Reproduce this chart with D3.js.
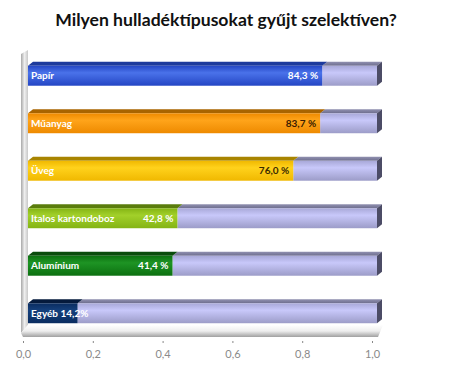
<!DOCTYPE html>
<html>
<head>
<meta charset="utf-8">
<script src="https://cdn.jsdelivr.net/npm/d3@7"></script>
<style>
  body { margin: 0; background: #fff; }
  text { font-family: Lato, "Open Sans", sans-serif; }
</style>
</head>
<body>
<div id="chart"></div>
<script>
const categories = ["Papír", "Műanyag", "Üveg", "Italos kartondoboz", "Alumínium", "Egyéb"];
const values = [0.843, 0.837, 0.760, 0.428, 0.414, 0.142];
const valueLabels = ["84,3 %", "83,7 %", "76,0 %", "42,8 %", "41,4 %", "14,2%"];
const tickValues = [0, 0.2, 0.4, 0.6, 0.8, 1.0];

const width = 450, height = 370;
const depth = { x: 5, y: 4 };
const barColors = [
    { top: "#1d3a9c", light: "#4a72ea", dark: "#2446c4", label: "#fff" },
    { top: "#a86400", light: "#ffa41a", dark: "#ee8a00", label: "#3a1c00" },
    { top: "#a88400", light: "#ffd21c", dark: "#f0b800", label: "#3a2a00" },
    { top: "#5a7c0c", light: "#a2d02a", dark: "#84b414", label: "#fff" },
    { top: "#0a4c0c", light: "#1e9424", dark: "#0c7010", label: "#fff" },
    { top: "#051a3c", light: "#15407c", dark: "#0a2c60", label: "#fff" }
];

const svg = d3.select("#chart").append("svg")
    .attr("width", width)
    .attr("height", height);

/* front face scale and the axis scale sitting on the back plane */
const x = d3.scaleLinear().domain([0, 1]).range([28, 377]);
const xAxisScale = d3.scaleLinear().domain([0, 1]).range([23, 372]);
const y = d3.scaleBand().domain(categories).range([52, 337]).paddingInner(0.58).paddingOuter(0.29);

const defs = svg.append("defs");
function vGrad(id, stops) {
    const g = defs.append("linearGradient").attr("id", id)
        .attr("x1", 0).attr("y1", 0).attr("x2", 0).attr("y2", 1);
    stops.forEach(s => g.append("stop").attr("offset", s[0]).attr("stop-color", s[1]));
}
function hGrad(id, stops) {
    const g = defs.append("linearGradient").attr("id", id)
        .attr("x1", 0).attr("y1", 0).attr("x2", 1).attr("y2", 0);
    stops.forEach(s => g.append("stop").attr("offset", s[0]).attr("stop-color", s[1]));
}
barColors.forEach((c, i) => vGrad("bar" + i, [[0, c.dark], [0.35, c.light], [1, c.dark]]));
vGrad("rest", [[0, "#a8a8d8"], [0.35, "#c8c8fa"], [1, "#9c9cc8"]]);
vGrad("restTop", [[0, "#9090b0"], [1, "#6e6e8e"]]);
hGrad("wall", [[0, "#a8a8a8"], [0.5, "#eeeeee"], [1, "#c8c8c8"]]);
vGrad("floor", [[0, "#ffffff"], [0.5, "#eeeeee"], [1, "#a0a0a0"]]);

/* title */
svg.append("text")
    .attr("x", 226)
    .attr("y", 26)
    .attr("text-anchor", "middle")
    .attr("font-size", 17.6)
    .attr("font-weight", "bold")
    .attr("fill", "#111")
    .text("Milyen hulladéktípusokat gyűjt szelektíven?");

/* side wall and floor */
const wallTop = 50, floorY = 325;
svg.append("path")
    .attr("d", `M21,${wallTop + 4} L28,${wallTop} L28,${floorY} L21,${floorY + 8} Z`)
    .attr("fill", "url(#wall)");
svg.append("path")
    .attr("d", `M21,${floorY + 8} L28,${floorY} L383,${floorY} L378,${floorY + 12} L23,${floorY + 12} Z`)
    .attr("fill", "url(#floor)");

/* bars */
const bars = svg.append("g").selectAll("g").data(categories).enter().append("g");

bars.each(function(cat, i) {
    const g = d3.select(this);
    const y0 = y(cat), h = y.bandwidth();
    const xe = x(values[i]), x1 = x(1);
    /* remaining (100%) part */
    g.append("path")
        .attr("d", `M${xe},${y0} L${xe + depth.x},${y0 - depth.y} L${x1 + depth.x},${y0 - depth.y} L${x1},${y0} Z`)
        .attr("fill", "url(#restTop)");
    g.append("path")
        .attr("d", `M${x1},${y0} L${x1 + depth.x},${y0 - depth.y} L${x1 + depth.x},${y0 + h - depth.y} L${x1},${y0 + h} Z`)
        .attr("fill", "#4c4c66");
    g.append("rect")
        .attr("x", xe).attr("y", y0)
        .attr("width", x1 - xe).attr("height", h)
        .attr("fill", "url(#rest)");
    /* value part */
    g.append("path")
        .attr("d", `M${x(0)},${y0} L${x(0) + depth.x},${y0 - depth.y} L${xe + depth.x},${y0 - depth.y} L${xe},${y0} Z`)
        .attr("fill", barColors[i].top);
    g.append("rect")
        .attr("x", x(0)).attr("y", y0)
        .attr("width", xe - x(0)).attr("height", h)
        .attr("fill", "url(#bar" + i + ")");
    /* labels */
    if (values[i] > 0.3) {
        g.append("text")
            .attr("x", x(0) + 3).attr("y", y0 + h / 2 + 3.5)
            .attr("font-size", 10).attr("font-weight", "bold")
            .attr("fill", "#fff")
            .text(cat);
        g.append("text")
            .attr("x", xe - 4).attr("y", y0 + h / 2 + 3.5)
            .attr("text-anchor", "end")
            .attr("font-size", 10).attr("font-weight", "bold")
            .attr("fill", barColors[i].label)
            .text(valueLabels[i]);
    } else {
        g.append("text")
            .attr("x", x(0) + 3).attr("y", y0 + h / 2 + 3.5)
            .attr("font-size", 10).attr("font-weight", "bold")
            .attr("fill", "#fff")
            .text(cat + " " + valueLabels[i]);
    }
});

/* x axis */
const xAxis = d3.axisBottom(xAxisScale)
    .tickValues(tickValues)
    .tickSize(2)
    .tickPadding(7)
    .tickFormat(d => d3.format(".1f")(d).replace(".", ","));
const xAxisG = svg.append("g")
    .attr("transform", "translate(0, 341)")
    .call(xAxis);
xAxisG.select(".domain").remove();
xAxisG.selectAll("line").attr("stroke", "#888");
xAxisG.selectAll("text")
    .attr("font-size", 11)
    .attr("fill", "#8a8a8a")
    .attr("font-family", "Lato, sans-serif");
</script>
</body>
</html>
